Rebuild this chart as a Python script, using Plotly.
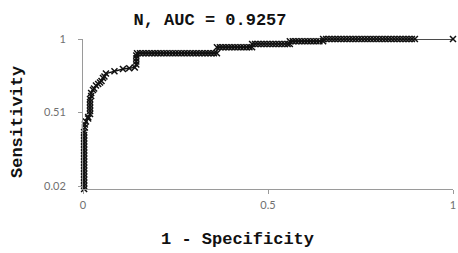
import plotly.graph_objects as go

# --- data ---
# steep initial part (1 - specificity, sensitivity)
fpr_start = [0.003, 0.003, 0.003, 0.003, 0.003, 0.003, 0.003, 0.003, 0.003, 0.003,
             0.003, 0.003, 0.003, 0.003, 0.003, 0.003, 0.003, 0.003, 0.003, 0.003,
             0.005, 0.005, 0.008, 0.014, 0.014,
             0.019, 0.019, 0.019, 0.019, 0.019, 0.019,
             0.022, 0.022, 0.027, 0.030, 0.035, 0.041, 0.046, 0.050, 0.054, 0.058,
             0.062, 0.085, 0.108, 0.125, 0.140,
             0.144, 0.144, 0.144, 0.144]
tpr_start = [0.00, 0.02, 0.04, 0.06, 0.08, 0.10, 0.12, 0.14, 0.16, 0.18,
             0.20, 0.22, 0.24, 0.26, 0.28, 0.30, 0.32, 0.34, 0.36, 0.38,
             0.41, 0.43, 0.45, 0.47, 0.48,
             0.50, 0.52, 0.54, 0.56, 0.58, 0.60,
             0.62, 0.64, 0.66, 0.67, 0.69, 0.70, 0.71, 0.72, 0.74, 0.75,
             0.77, 0.785, 0.80, 0.805, 0.81,
             0.83, 0.85, 0.87, 0.89]

# plateaus (sensitivity level, list of 1 - specificity values)
plateau_levels = [0.905, 0.945, 0.967, 0.985, 1.0]
plateau_fpr = [
    [0.146, 0.154, 0.162, 0.170, 0.178, 0.186, 0.194, 0.202, 0.210, 0.218,
     0.226, 0.234, 0.242, 0.250, 0.258, 0.266, 0.274, 0.282, 0.290, 0.298,
     0.306, 0.314, 0.322, 0.330, 0.338, 0.346, 0.354, 0.362],
    [0.362, 0.370, 0.378, 0.386, 0.394, 0.402, 0.410, 0.418, 0.426, 0.434,
     0.442, 0.450, 0.457],
    [0.457, 0.465, 0.473, 0.481, 0.489, 0.497, 0.505, 0.513, 0.521, 0.529,
     0.537, 0.545, 0.553, 0.559],
    [0.559, 0.567, 0.575, 0.583, 0.591, 0.599, 0.607, 0.615, 0.623, 0.631,
     0.639, 0.649],
    [0.649, 0.657, 0.665, 0.673, 0.681, 0.689, 0.697, 0.705, 0.713, 0.721,
     0.729, 0.737, 0.745, 0.753, 0.761, 0.769, 0.777, 0.785, 0.793, 0.801,
     0.809, 0.817, 0.825, 0.833, 0.841, 0.849, 0.857, 0.865, 0.873, 0.881,
     0.889, 0.897],
]
fpr_end = [1.0]
tpr_end = [1.0]

x_ticks = [0, 0.5, 1]
x_tick_labels = ["0", "0.5", "1"]
y_ticks = [0.02, 0.51, 1]
y_tick_labels = ["0.02", "0.51", "1"]

title_text = "N, AUC = 0.9257"
x_title = "1 - Specificity"
y_title = "Sensitivity"

# --- assemble ---
xs = list(fpr_start)
ys = list(tpr_start)
for lvl, fl in zip(plateau_levels, plateau_fpr):
    xs += fl
    ys += [lvl] * len(fl)
xs += fpr_end
ys += tpr_end

W, H = 458, 253
mono = "Liberation Mono"
fig = go.Figure()
fig.add_trace(go.Scatter(
    x=xs, y=ys, mode="lines+markers",
    line=dict(color="#111111", width=1.3),
    marker=dict(symbol="x-thin", size=6, line=dict(color="#111111", width=1.5)),
    cliponaxis=False, showlegend=False, hoverinfo="skip",
))

axis_common = dict(
    showgrid=False, zeroline=False, showline=True, automargin=False,
    linecolor="#9a9a9a", linewidth=1,
    ticks="outside", ticklen=4, tickcolor="#9a9a9a", tickwidth=1,
    tickfont=dict(family="Lato", size=11, color="#707070"),
    ticklabeloverflow="allow",
)
fig.update_layout(
    width=W, height=H,
    margin=dict(l=83, r=5, t=39, b=H - 189, autoexpand=False),
    paper_bgcolor="white", plot_bgcolor="white",
    xaxis=dict(range=[0, 1], tickvals=x_ticks, ticktext=x_tick_labels,
               ticklabelstandoff=2, **axis_common),
    yaxis=dict(range=[0, 1], tickvals=y_ticks, ticktext=y_tick_labels,
               ticklabelstandoff=10, **axis_common),
    title=dict(text=title_text, xref="container", yref="container",
               x=210 / W, y=1 - 19 / H, xanchor="center", yanchor="middle",
               font=dict(family=mono, size=17, color="#111111", weight="bold")),
    annotations=[
        dict(text=x_title, xref="paper", yref="paper",
             x=(237 - 83) / 370, y=(189 - 239) / 150,
             xanchor="center", yanchor="middle", showarrow=False,
             font=dict(family=mono, size=17, color="#111111", weight="bold")),
        dict(text=y_title, xref="paper", yref="paper",
             x=(17 - 83) / 370, y=(189 - 122) / 150, textangle=-90,
             xanchor="center", yanchor="middle", showarrow=False,
             font=dict(family=mono, size=17, color="#111111", weight="bold")),
    ],
)
fig.write_html(
    "out.html",
    config={"displayModeBar": False, "staticPlot": True},
    post_script="document.body.style.margin='0';document.body.style.overflow='hidden';",
)
